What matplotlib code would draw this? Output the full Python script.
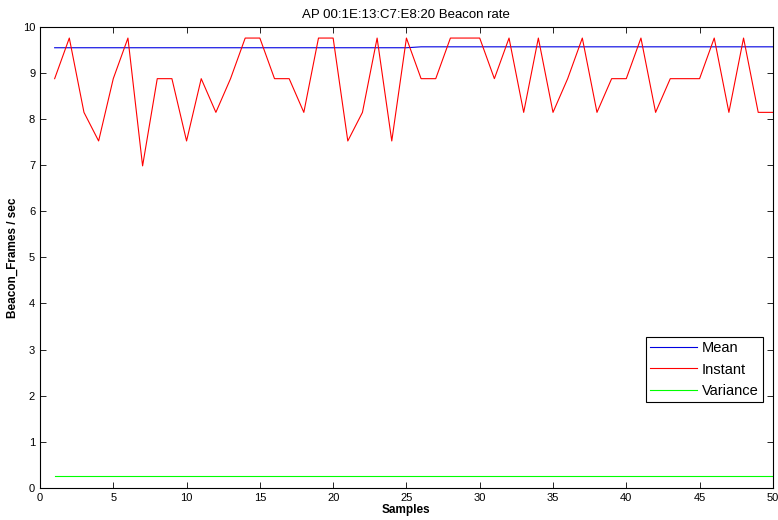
import numpy as np
import matplotlib
matplotlib.use("Agg")
import matplotlib.pyplot as plt

plt.rcParams['font.family'] = ['Liberation Sans', 'DejaVu Sans']

samples = np.arange(1, 51)
instant = [8.87, 9.75, 8.14, 7.52, 8.87, 9.75, 6.98, 8.87, 8.87, 7.52,
           8.87, 8.14, 8.87, 9.75, 9.75, 8.87, 8.87, 8.14, 9.75, 9.75,
           7.52, 8.14, 9.75, 7.52, 9.75, 8.87, 8.87, 9.75, 9.75, 9.75,
           8.87, 9.75, 8.14, 9.75, 8.14, 8.87, 9.75, 8.14, 8.87, 8.87,
           9.75, 8.14, 8.87, 8.87, 8.87, 9.75, 8.14, 9.75, 8.14, 8.14]
mean = [9.54] * 25 + [9.56] * 25
variance = [0.25] * 25 + [0.25] * 25

fig = plt.figure(figsize=(7.78, 5.2), dpi=100)
ax = fig.add_axes([0.0514, 0.0615, 0.942, 0.8875])

ax.plot(samples, mean, color='#0000e0', lw=0.8, label='Mean')
ax.plot(samples, instant, color='#ff0000', lw=0.8, label='Instant')
ax.plot(samples, variance, color='#00ff00', lw=0.8, label='Variance')

ax.set_xlim(0, 50)
ax.set_ylim(0, 10)
ax.set_xticks(range(0, 51, 5))
ax.set_yticks(range(0, 11))
ax.tick_params(direction='in', top=True, right=True, labelsize=8, length=4, width=0.6)
for s in ax.spines.values():
    s.set_linewidth(0.8)

ax.set_title('AP 00:1E:13:C7:E8:20 Beacon rate', fontsize=9.5, pad=6)
ax.set_xlabel('Samples', fontsize=8.5, fontweight='bold', labelpad=1)
ax.set_ylabel('Beacon_Frames / sec', fontsize=8.5, fontweight='bold', labelpad=3)

leg = ax.legend(loc='lower right', bbox_to_anchor=(0.986, 0.186), fontsize=10.5,
                fancybox=False, framealpha=1, edgecolor='black',
                handlelength=3.2, handletextpad=0.3, borderpad=0.3,
                labelspacing=0.5, borderaxespad=0)
leg.get_frame().set_linewidth(0.8)

fig.savefig('out.png', dpi=100)
